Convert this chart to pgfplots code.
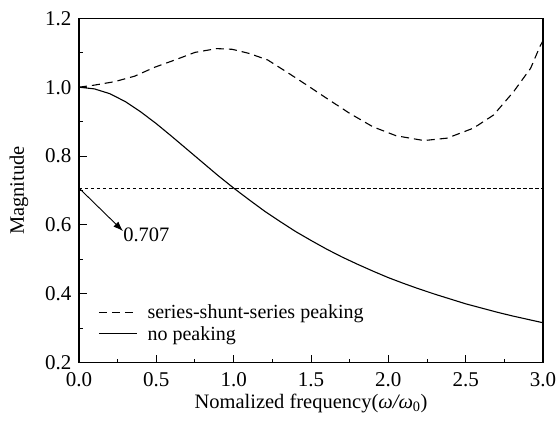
\documentclass[border=0pt]{standalone}
\usepackage{pgfplots}
\pgfplotsset{compat=1.18}
\usetikzlibrary{arrows.meta}
\usepackage{fontspec}
\setmainfont{Liberation Serif}
\begin{document}
\begin{tikzpicture}
\begin{axis}[
  scale only axis,
  width=464bp, height=344.4bp,
  xmin=0, xmax=3, ymin=0.2, ymax=1.2,
  xtick={0,0.5,...,3.0}, ytick={0.2,0.4,...,1.2},
  minor x tick num=1, minor y tick num=1,
  tick pos=left,
  tick align=inside,
  major tick length=8bp, minor tick length=4bp,
  axis line style={line width=1.1bp},
  every tick/.style={line width=1bp, black},
  /pgf/number format/assume math mode=true,
  xticklabel style={yshift=-6bp, /pgf/number format/.cd, fixed, fixed zerofill, precision=1},
  yticklabel style={xshift=-4bp, /pgf/number format/.cd, fixed, fixed zerofill, precision=1},
  ticklabel style={font=\fontsize{21bp}{23bp}\selectfont},
  xlabel={Nomalized frequency(\textit{ω/ω}\textsubscript{0})},
  ylabel={Magnitude},
  label style={font=\fontsize{20.5bp}{22bp}\selectfont},
  xlabel style={yshift=-1bp},
  ylabel style={yshift=10bp},
  legend style={draw=none, fill=none, at={(rel axis cs:0.035,0.18)}, anchor=north west,
    font=\fontsize{20bp}{22bp}\selectfont, row sep=2bp,
    /tikz/every odd column/.append style={column sep=8bp}},
  legend cell align=left,
  legend image code/.code={\draw[#1] (0bp,0bp) -- (38bp,0bp);},
]
\addplot[black, line width=1.1bp, dash pattern=on 8bp off 5bp] coordinates {
(0,1.000) (0.10,1.006) (0.23,1.016) (0.36,1.032) (0.49,1.058) (0.62,1.079)
(0.75,1.101) (0.89,1.112) (0.99,1.110) (1.10,1.098) (1.22,1.079) (1.35,1.042)
(1.48,1.004) (1.60,0.968) (1.75,0.924) (1.90,0.885) (2.05,0.859) (2.23,0.845)
(2.38,0.852) (2.55,0.881) (2.68,0.919) (2.81,0.987) (2.92,1.055) (2.98,1.118) (3.0,1.135)
};
\addlegendentry{series-shunt-series peaking}
\addplot[black, line width=1.1bp] coordinates {
(0,1.000) (0.1,0.995) (0.2,0.981) (0.3,0.958) (0.4,0.928) (0.5,0.894) (0.6,0.857)
(0.7,0.819) (0.8,0.781) (0.9,0.743) (1.0,0.707) (1.1,0.673) (1.2,0.640) (1.3,0.610)
(1.4,0.581) (1.5,0.555) (1.6,0.530) (1.7,0.507) (1.8,0.486) (1.9,0.466) (2.0,0.447)
(2.1,0.430) (2.2,0.414) (2.3,0.399) (2.4,0.385) (2.5,0.371) (2.6,0.359) (2.7,0.347)
(2.8,0.336) (2.9,0.326) (3.0,0.316)
};
\addlegendentry{no peaking}
\addplot[black, line width=0.9bp, dash pattern=on 3.5bp off 2.5bp, forget plot] coordinates {(0,0.707) (3,0.707)};
\draw[-{Latex[length=10bp,width=7bp]}, line width=0.9bp] (axis cs:0,0.707) -- (axis cs:0.285,0.582);
\node[anchor=west, inner sep=0pt, font=\fontsize{20.5bp}{22bp}\selectfont] at (axis cs:0.285,0.57) {0.707};
\end{axis}
\pgfresetboundingbox
\path[use as bounding box] ([xshift=-79bp,yshift=-59.3bp]current axis.south west) rectangle ([xshift=15bp,yshift=18.3bp]current axis.north east);
\end{tikzpicture}
\end{document}
